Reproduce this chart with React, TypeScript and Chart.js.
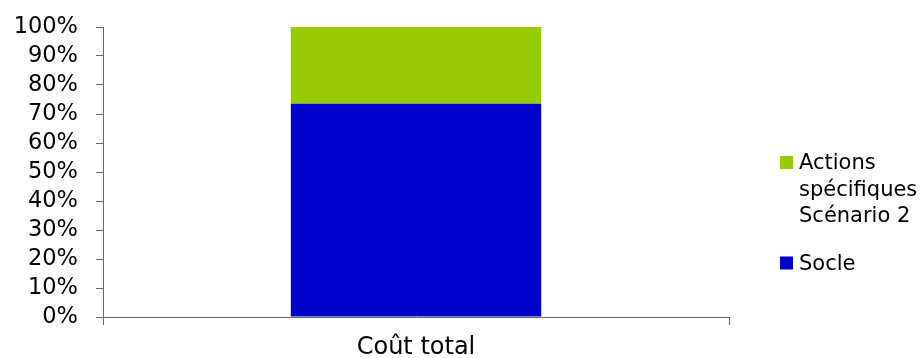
import React, { useEffect, useRef } from "react";
import { Chart, registerables } from "chart.js";

Chart.register(...registerables);

const categories = ["Coût total"];
const socleValues = [73.5];
const actionsValues = [26.5];
const socleLabel = "Socle";
const actionsLabel = ["Actions", "spécifiques", "Scénario 2"];
const yTicks = [0, 10, 20, 30, 40, 50, 60, 70, 80, 90, 100];

const FONT = "'DejaVu Sans', Verdana, sans-serif";
const AXIS = "#666666";

const legendPlugin = {
  id: "customLegend",
  afterDraw(chart: any) {
    const ctx = chart.ctx;
    ctx.save();
    ctx.font = `21px ${FONT}`;
    ctx.textBaseline = "alphabetic";
    ctx.textAlign = "left";
    const items = [...chart.data.datasets].reverse();
    let baseline = 169;
    items.forEach((ds: any) => {
      const lines: string[] = Array.isArray(ds.label) ? ds.label : [ds.label];
      ctx.fillStyle = ds.backgroundColor;
      ctx.fillRect(780, baseline - 13, 13, 13);
      ctx.fillStyle = "#000";
      lines.forEach((ln, j) => {
        ctx.fillText(ln, 799, baseline + j * 26.5);
      });
      baseline += lines.length * 26.5 + 21;
    });
    ctx.restore();
  },
};

export default function App() {
  const ref = useRef<HTMLCanvasElement>(null);
  useEffect(() => {
    if (!ref.current) return;
    const chart = new Chart(ref.current, {
      type: "bar",
      data: {
        labels: categories,
        datasets: [
          {
            label: socleLabel as any,
            data: socleValues,
            backgroundColor: "#0000CC",
            borderWidth: 0,
            barPercentage: 0.4,
            categoryPercentage: 1,
          },
          {
            label: actionsLabel as any,
            data: actionsValues,
            backgroundColor: "#99CC00",
            borderWidth: 0,
            barPercentage: 0.4,
            categoryPercentage: 1,
          },
        ],
      },
      options: {
        responsive: false,
        animation: false,
        layout: { padding: { left: 0, right: 191, top: 27, bottom: 0 } },
        plugins: {
          legend: { display: false },
          tooltip: { enabled: false },
        },
        scales: {
          x: {
            stacked: true,
            grid: {
              drawOnChartArea: false,
              drawTicks: true,
              tickLength: 8,
              color: AXIS,
              offset: true,
            },
            border: { color: AXIS, width: 1 },
            ticks: {
              color: "#000",
              font: { family: FONT, size: 24 },
              padding: 8,
            },
            afterFit: (s: any) => {
              s.height = 41;
              s.paddingLeft = 0;
              s.paddingRight = 0;
            },
          },
          y: {
            stacked: true,
            min: 0,
            max: 100,
            afterBuildTicks: (s: any) => {
              s.ticks = yTicks.map((v) => ({ value: v }));
            },
            grid: {
              drawOnChartArea: false,
              drawTicks: true,
              tickLength: 7,
              color: AXIS,
            },
            border: { color: AXIS, width: 1 },
            ticks: {
              color: "#000",
              font: { family: FONT, size: 22.5 },
              padding: 18,
              autoSkip: false,
              callback: (v: any) => `${v}%`,
            },
            afterFit: (s: any) => {
              s.width = 103;
              s.paddingTop = 0;
              s.paddingBottom = 0;
            },
          },
        },
      },
      plugins: [legendPlugin],
    });
    return () => chart.destroy();
  }, []);
  return (
    <div style={{ position: "absolute", left: 0, top: 0, width: 920, height: 358, background: "#fff" }}>
      <canvas ref={ref} width={920} height={358} />
    </div>
  );
}
